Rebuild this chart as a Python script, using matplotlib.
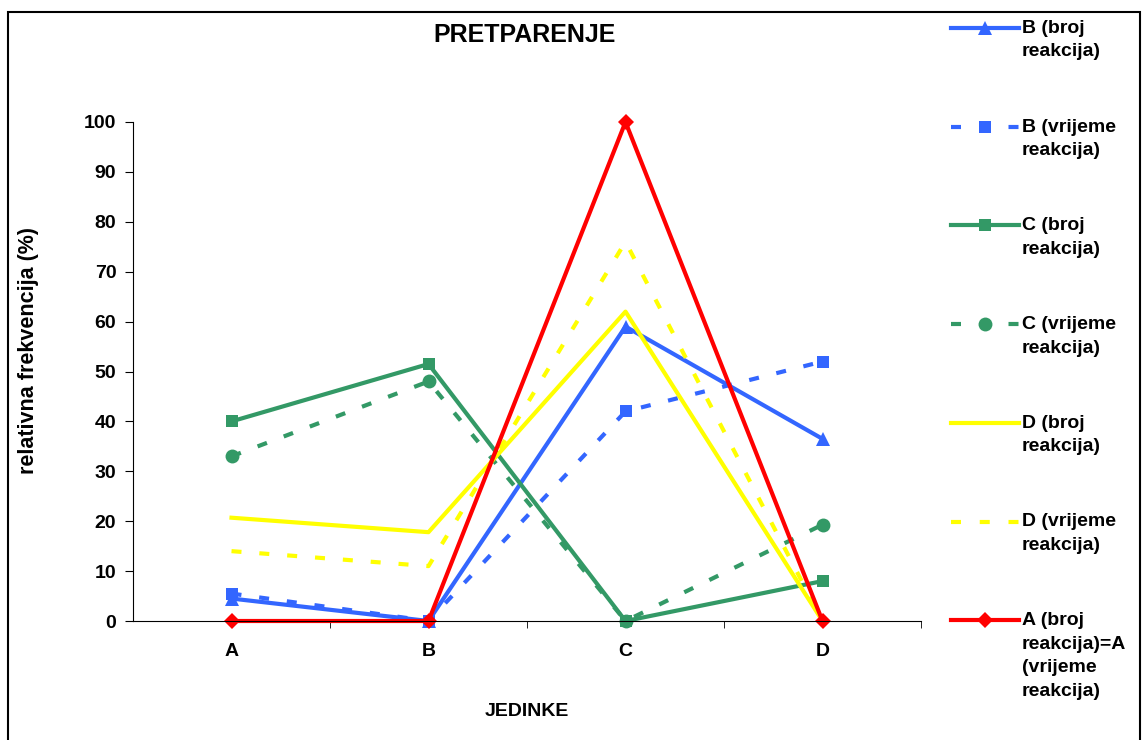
import numpy as np
import matplotlib.pyplot as plt
from matplotlib.lines import Line2D
from matplotlib.patches import Rectangle

plt.rcParams['font.family'] = ['Liberation Sans', 'DejaVu Sans']
plt.rcParams['font.weight'] = 'bold'

jedinke = ['A', 'B', 'C', 'D']

b_broj = [4.5, 0, 59, 36.5]
b_vrijeme = [5.5, 0, 42, 52]
c_broj = [40, 51.5, 0, 8]
c_vrijeme = [33, 48, 0, 19.3]
d_broj = [20.7, 17.8, 62, 0]
d_vrijeme = [14, 11, 76, 0]
a_oba = [0, 0, 100, 0]

BLUE = '#3366FF'
GREEN = '#339966'
YELLOW = '#FFFF00'
RED = '#FF0000'
DASH = (0, (2.4, 4.3))

series = [
    (b_broj, 'B (broj\nreakcija)', BLUE, '-', '^', 10),
    (b_vrijeme, 'B (vrijeme\nreakcija)', BLUE, DASH, 's', 9),
    (c_broj, 'C (broj\nreakcija)', GREEN, '-', 's', 9),
    (c_vrijeme, 'C (vrijeme\nreakcija)', GREEN, DASH, 'o', 10),
    (d_broj, 'D (broj\nreakcija)', YELLOW, '-', None, 0),
    (d_vrijeme, 'D (vrijeme\nreakcija)', YELLOW, DASH, None, 0),
    (a_oba, 'A (broj\nreakcija)=A\n(vrijeme\nreakcija)', RED, '-', 'D', 8.5),
]

W, H = 1143, 740
fig = plt.figure(figsize=(11.43, 7.40), dpi=100)
ax = fig.add_axes([133 / W, 1 - 621 / H, 788 / W, 499 / H])

x = np.arange(len(jedinke))
for vals, lab, col, ls, mk, ms in series:
    ax.plot(x, vals, color=col, ls=ls, lw=3, marker=mk, ms=ms,
            markeredgewidth=0, clip_on=False)

ax.set_xlim(-0.5, 3.5)
ax.set_ylim(0, 100)
ax.set_yticks(np.arange(0, 101, 10))
ax.set_xticks(x)
ax.set_xticklabels(jedinke)
ax.set_xticks([0.5, 1.5, 2.5, 3.5], minor=True)
ax.tick_params(axis='x', which='major', length=0, pad=16, labelsize=14)
ax.tick_params(axis='x', which='minor', length=5, direction='out', color='black')
ax.tick_params(axis='y', length=6, direction='out', pad=6, labelsize=14)
for s in ['top', 'right']:
    ax.spines[s].set_visible(False)
ax.spines['left'].set_color('black')
ax.spines['bottom'].set_color('black')

fig.text(527 / W, 1 - 712 / H, 'JEDINKE', fontsize=14, fontweight='bold',
         ha='center', va='center')
fig.text(29 / W, 1 - 351 / H, 'relativna frekvencija (%)', fontsize=15.5,
         fontweight='bold', ha='center', va='center', rotation=90)
fig.text(525 / W, 1 - 35 / H, 'PRETPARENJE', fontsize=18, fontweight='bold',
         ha='center', va='center')

# legend built by hand so the handle sits on the first text line
for i, (vals, lab, col, ls, mk, ms) in enumerate(series):
    ypix = 28 + 98.7 * i
    yy = 1 - ypix / H
    x0, x1 = 951 / W, 1019 / W
    fig.add_artist(Line2D([x0, (x0 + x1) / 2, x1], [yy, yy, yy], transform=fig.transFigure,
                          color=col, ls=ls if ls == '-' else (0, (2.4, 4.5)), lw=3,
                          marker=mk, ms=ms, markevery=[1], markeredgewidth=0))
    fig.text(1022 / W, 1 - (ypix - 8) / H, lab, fontsize=14, fontweight='bold',
             ha='left', va='top', linespacing=1.5)

fig.add_artist(Rectangle((8 / W, -0.01), 1132 / W, 1 - 12 / H + 0.01,
                         transform=fig.transFigure, fill=False, lw=1.5, ec='black'))

fig.savefig('out.png', dpi=100)
